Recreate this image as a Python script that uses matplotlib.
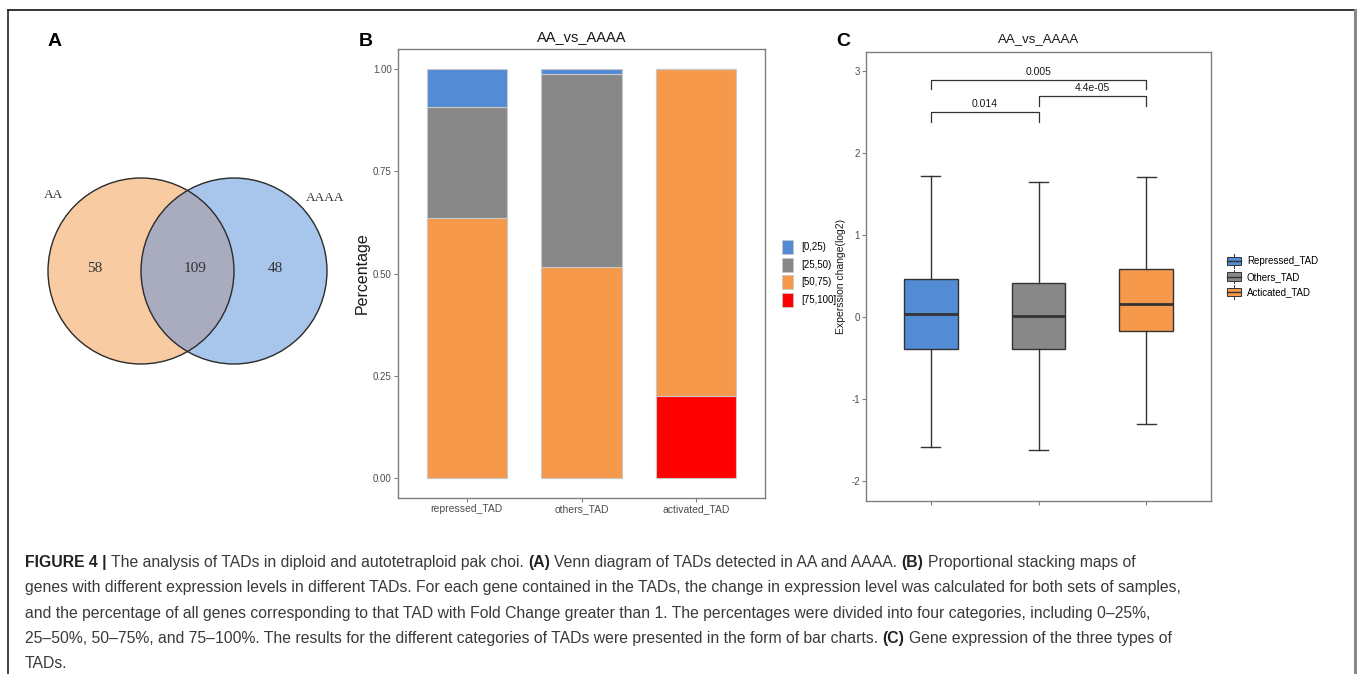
import matplotlib
matplotlib.use("Agg")
import matplotlib.pyplot as plt
from matplotlib import font_manager
from matplotlib.patches import Circle, Rectangle, Patch
from matplotlib.lines import Line2D
from matplotlib.legend_handler import HandlerBase

W, H = 1357, 674

# ---- panel A: Venn counts
venn_sets = ["AA", "AAAA"]
venn_counts = [58, 109, 48]  # AA only, shared, AAAA only

# ---- panel B: stacked proportions
tads = ["repressed_TAD", "others_TAD", "activated_TAD"]
bins = ["[0,25)", "[25,50)", "[50,75)", "[75,100]"]
frac_0_25 = [0.092, 0.012, 0.0]
frac_25_50 = [0.272, 0.471, 0.0]
frac_50_75 = [0.636, 0.517, 0.801]
frac_75_100 = [0.0, 0.0, 0.199]
bin_colors = ["#538BD4", "#888888", "#F6994A", "#FF0000"]

# ---- panel C: box stats
box_labels = ["Repressed_TAD", "Others_TAD", "Acticated_TAD"]
box_whislo = [-1.58, -1.62, -1.30]
box_q1 = [-0.385, -0.393, -0.165]
box_med = [0.04, 0.013, 0.156]
box_q3 = [0.46, 0.42, 0.59]
box_whishi = [1.72, 1.645, 1.707]
box_colors = ["#538BD4", "#888888", "#F6994A"]

pairs = [(1, 2), (2, 3), (1, 3)]
pair_y = [2.50, 2.70, 2.90]
pair_p = ["0.014", "4.4e-05", "0.005"]

caption = [
    [("FIGURE 4 | ", True), ("The analysis of TADs in diploid and autotetraploid pak choi. ", False),
     ("(A) ", True), ("Venn diagram of TADs detected in AA and AAAA. ", False),
     ("(B) ", True), ("Proportional stacking maps of", False)],
    [("genes with different expression levels in different TADs. For each gene contained in the TADs, "
      "the change in expression level was calculated for both sets of samples,", False)],
    [("and the percentage of all genes corresponding to that TAD with Fold Change greater than 1. "
      "The percentages were divided into four categories, including 0\u201325%,", False)],
    [("25\u201350%, 50\u201375%, and 75\u2013100%. The results for the different categories of TADs "
      "were presented in the form of bar charts. ", False), ("(C) ", True),
     ("Gene expression of the three types of", False)],
    [("TADs.", False)],
]

plt.rcParams["font.family"] = ["Liberation Sans", "DejaVu Sans"]
plt.rcParams["axes.unicode_minus"] = False

TICK = "#4D4D4D"
FRAME = "#7F7F7F"


def box(l, t, r, b):
    return [l / W, 1 - b / H, (r - l) / W, (b - t) / H]


class BoxKey(HandlerBase):
    def create_artists(self, legend, orig_handle, xdescent, ydescent,
                       width, height, fontsize, trans):
        x0, y0 = -xdescent, -ydescent
        fc = orig_handle.get_facecolor()
        ec = "#333333"
        rect = Rectangle((x0, y0 + 0.2 * height), width, 0.6 * height,
                         facecolor=fc, edgecolor=ec, lw=0.7, transform=trans)
        med = Line2D([x0, x0 + width], [y0 + 0.5 * height] * 2, color=ec, lw=1.0, transform=trans)
        wl = Line2D([x0 + width / 2] * 2, [y0, y0 + 0.2 * height], color=ec, lw=0.7, transform=trans)
        wh = Line2D([x0 + width / 2] * 2, [y0 + 0.8 * height, y0 + height], color=ec, lw=0.7, transform=trans)
        return [rect, med, wl, wh]


def style_axes(ax):
    for s in ax.spines.values():
        s.set_color(FRAME)
        s.set_linewidth(1.0)
    ax.tick_params(colors=FRAME, labelcolor=TICK, length=3, width=0.8, pad=1.5)


fig = plt.figure(figsize=(W / 100, H / 100), dpi=100)

# ---------------- panel A
axA = fig.add_axes(box(20, 40, 360, 520))
axA.set_xlim(20, 360)
axA.set_ylim(520, 40)
axA.set_aspect("equal")
axA.axis("off")
left = Circle((141, 271), 93, facecolor="#F8CBA3", edgecolor="none")
right = Circle((234, 271), 93, facecolor="#A8C5EB", edgecolor="none")
axA.add_patch(left)
axA.add_patch(right)
lens = Circle((234, 271), 93, facecolor="#A9ABBE", edgecolor="none")
axA.add_patch(lens)
lens.set_clip_path(left)
for c in [(141, 271), (234, 271)]:
    axA.add_patch(Circle(c, 93, facecolor="none", edgecolor="#2b2b2b", lw=1.0))
serif = ["Liberation Serif", "DejaVu Serif"]
axA.text(54, 195, venn_sets[0], ha="center", va="center", family=serif, fontsize=9.5, color="#333333")
axA.text(325, 198, venn_sets[1], ha="center", va="center", family=serif, fontsize=9.5, color="#333333")
for xp, n in zip([95, 195, 275], venn_counts):
    axA.text(xp, 268, str(n), ha="center", va="center", family=serif, fontsize=11, color="#333333")

# ---------------- panel B
axB = fig.add_axes(box(398, 49, 765, 498))
x = range(1, len(tads) + 1)
stack = [frac_75_100, frac_50_75, frac_25_50, frac_0_25]
stack_labels = bins[::-1]
stack_colors = bin_colors[::-1]
bottom = [0.0] * len(tads)
for vals, lab, col in zip(stack, stack_labels, stack_colors):
    axB.bar(x, vals, bottom=bottom, width=0.7, color=col, edgecolor="#C8C8C8", linewidth=0.8, label=lab)
    bottom = [b + v for b, v in zip(bottom, vals)]
axB.set_xlim(0.4, 3.6)
axB.set_ylim(-0.05, 1.05)
axB.set_xticks(list(x))
axB.set_xticklabels(tads, fontsize=7.5)
axB.set_yticks([0, 0.25, 0.5, 0.75, 1.0])
axB.set_yticklabels(["0.00", "0.25", "0.50", "0.75", "1.00"], fontsize=7)
axB.set_ylabel("Percentage", fontsize=11.5, labelpad=2, color="#1a1a1a")
axB.set_title("AA_vs_AAAA", fontsize=10.5, pad=6, color="#1a1a1a")
style_axes(axB)
hB = [Patch(facecolor=c, edgecolor="#C8C8C8", lw=0.6) for c in bin_colors]
axB.legend(hB, bins, loc="center left", bbox_to_anchor=(1 + 17 / 367, 0.5), frameon=False,
           fontsize=7, handlelength=1.1, handleheight=1.8, labelspacing=0.4,
           handletextpad=0.9, borderpad=0, borderaxespad=0)

# ---------------- panel C
axC = fig.add_axes(box(866, 52, 1211, 501))
stats = [dict(med=m, q1=a, q3=b, whislo=lo, whishi=hi, label=l)
         for m, a, b, lo, hi, l in zip(box_med, box_q1, box_q3, box_whislo, box_whishi, box_labels)]
bp = axC.bxp(stats, positions=[1, 2, 3], widths=0.5, patch_artist=True, showfliers=False,
             capwidths=0.18,
             boxprops=dict(edgecolor="#333333", linewidth=1.0),
             medianprops=dict(color="#333333", linewidth=2.0),
             whiskerprops=dict(color="#333333", linewidth=1.0),
             capprops=dict(color="#333333", linewidth=1.0))
for patch, col in zip(bp["boxes"], box_colors):
    patch.set_facecolor(col)
for (a, b), yb, p in zip(pairs, pair_y, pair_p):
    axC.plot([a, a, b, b], [yb - 0.12, yb, yb, yb - 0.12], color="#333333", lw=0.9)
    axC.text((a + b) / 2, yb + 0.035, p, ha="center", va="bottom", fontsize=7.5, color="#1a1a1a")
axC.set_xlim(0.4, 3.6)
axC.set_ylim(-2.245, 3.236)
axC.set_xticks([1, 2, 3])
axC.set_xticklabels(["", "", ""])
axC.set_yticks([-2, -1, 0, 1, 2, 3])
axC.set_yticklabels(["-2", "-1", "0", "1", "2", "3"], fontsize=7)
axC.set_ylabel("Experssion change(log2)", fontsize=7.5, labelpad=4, color="#1a1a1a")
axC.set_title("AA_vs_AAAA", fontsize=9.5, pad=7, color="#1a1a1a")
style_axes(axC)
hC = [Patch(facecolor=c) for c in box_colors]
axC.legend(hC, box_labels, loc="center left", bbox_to_anchor=(1 + 16 / 345, 0.5), frameon=False,
           fontsize=7, handlelength=1.45, handleheight=1.75, labelspacing=0.2,
           handletextpad=0.6, borderpad=0, borderaxespad=0,
           handler_map={Patch: BoxKey()})

# ---------------- panel letters
for lab, xp in zip(["A", "B", "C"], [55, 366, 843]):
    fig.text(xp / W, 1 - 46 / H, lab, fontsize=14, fontweight="bold", ha="center", va="baseline",
             family=["Liberation Sans", "DejaVu Sans"])

# ---------------- frame
fig.add_artist(Line2D([8 / W, 1355 / W], [1 - 10 / H] * 2, color="#111111", lw=1.2))
fig.add_artist(Line2D([8 / W] * 2, [1 - 10 / H, 0], color="#222222", lw=1.2))
fig.add_artist(Line2D([1355 / W] * 2, [1 - 10 / H, 0], color="#8a8a8a", lw=2.2))

# ---------------- caption
names = {f.name for f in font_manager.fontManager.ttflist}
cap_family = "Liberation Sans Narrow" if "Liberation Sans Narrow" in names else "Liberation Sans"
renderer = fig.canvas.get_renderer()


def text_width(s, size, bold):
    t = fig.text(0, 0, s, fontsize=size, fontweight="bold" if bold else "normal", family=cap_family)
    w = t.get_window_extent(renderer=renderer).width
    t.remove()
    return w


def run_width(s, size, bold):
    core = s.rstrip(" ")
    n_sp = len(s) - len(core)
    sp = text_width("x x", size, bold) - text_width("xx", size, bold)
    return text_width(core, size, bold) + n_sp * sp


probe = 10.0
w2 = sum(run_width(s, probe, b) for s, b in caption[1])
cap_size = probe * 1155 / w2

for i, line in enumerate(caption):
    xp = 25
    yp = 567 + 25.3 * i
    for s, b in line:
        fig.text(xp / W, 1 - yp / H, s.rstrip(" "), fontsize=cap_size,
                 fontweight="bold" if b else "normal", family=cap_family,
                 color="#222222" if b else "#3a3a3a", ha="left", va="baseline")
        xp += run_width(s, cap_size, b)

fig.savefig("out.png", dpi=100)
